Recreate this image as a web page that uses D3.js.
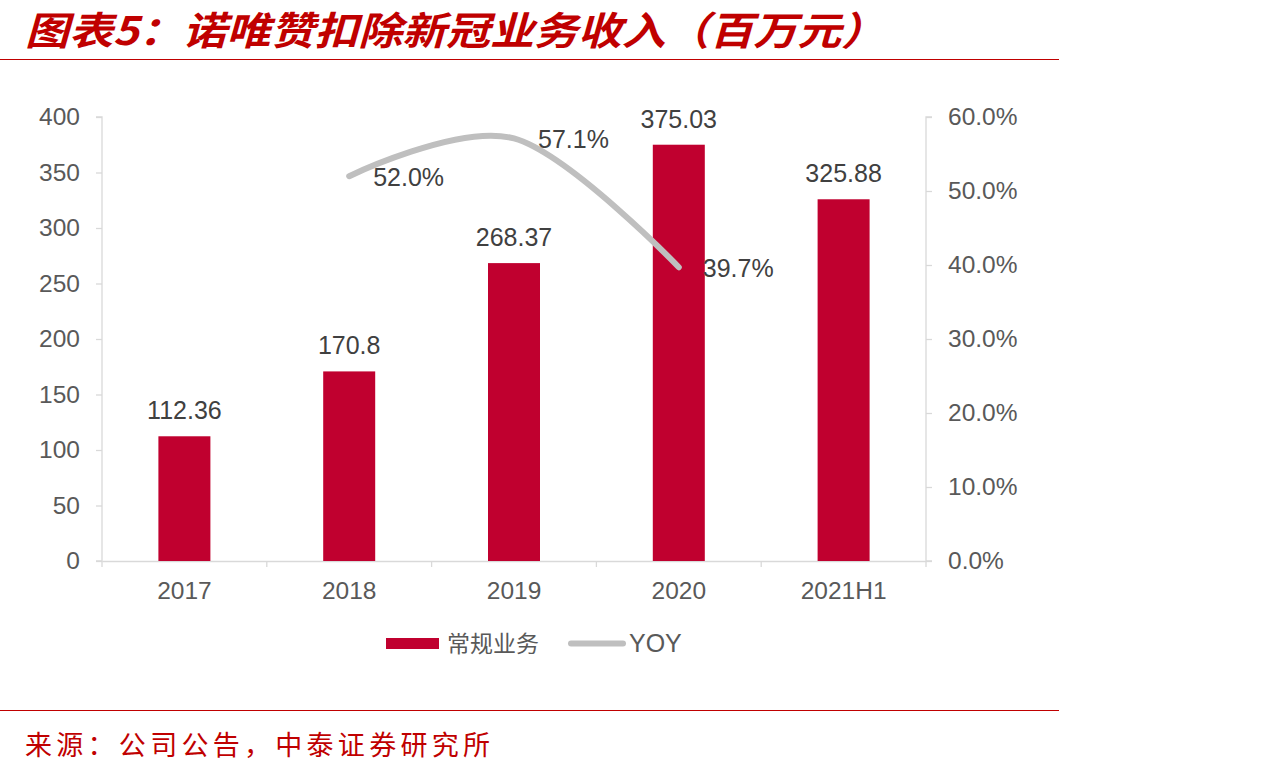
<!DOCTYPE html>
<html><head><meta charset="utf-8">
<script src="https://cdn.jsdelivr.net/npm/d3@7"></script>
<style>body{margin:0;background:#fff;}svg{display:block;}</style>
</head><body>
<svg id="c" width="1286" height="774"></svg>
<script>
const categories = ["2017","2018","2019","2020","2021H1"];
const revenue = [112.36, 170.8, 268.37, 375.03, 325.88];
const revenueLabels = ["112.36","170.8","268.37","375.03","325.88"];
const yoyCats = ["2018","2019","2020"];
const yoy = [0.520, 0.571, 0.397];
const yoyLabels = ["52.0%","57.1%","39.7%"];
const leftTicks = [0,50,100,150,200,250,300,350,400];
const rightTicks = [0,0.1,0.2,0.3,0.4,0.5,0.6];
const titleText = "图表5：诺唯赞扣除新冠业务收入（百万元）";
const sourceText = "来源：公司公告，中泰证券研究所";
const legendNames = ["常规业务","YOY"];

const svg = d3.select("#c");
const red = "#C0002F", gray = "#BFBFBF", txt = "#595959", axisCol = "#D9D9D9";
const font = "'Liberation Sans', Arial, sans-serif";
const cjk = "'Noto Sans CJK SC', sans-serif";

// title
svg.append("text").attr("x",25).attr("y",45).text(titleText)
  .attr("font-family",cjk).attr("font-size",39).attr("font-weight","bold")
  .attr("font-style","italic").attr("fill","#C00000")
  .attr("textLength",860).attr("lengthAdjust","spacingAndGlyphs");
svg.append("line").attr("x1",0).attr("x2",1059).attr("y1",59.5).attr("y2",59.5)
  .attr("stroke","#C00000").attr("stroke-width",1);
svg.append("line").attr("x1",0).attr("x2",1059).attr("y1",710.5).attr("y2",710.5)
  .attr("stroke","#C00000").attr("stroke-width",1);
svg.append("text").attr("x",25).attr("y",755).text(sourceText)
  .attr("font-family",cjk).attr("font-size",27).attr("fill","#C00000")
  .attr("textLength",465).attr("lengthAdjust","spacing");

const x0 = 102, x1 = 926, yTop = 117, yBot = 561;
const x = d3.scaleBand().domain(categories).range([x0,x1]).paddingInner(0).paddingOuter(0);
const y = d3.scaleLinear().domain([0,400]).range([yBot,yTop]);
const y2 = d3.scaleLinear().domain([0,0.6]).range([yBot,yTop]);

// axes
const gL = svg.append("g").attr("transform",`translate(${x0},0)`)
  .call(d3.axisLeft(y).tickValues(leftTicks).tickSize(6).tickPadding(16));
const gR = svg.append("g").attr("transform",`translate(${x1},0)`)
  .call(d3.axisRight(y2).tickValues(rightTicks).tickSize(6).tickPadding(16).tickFormat(d3.format(".1%")));
const gX = svg.append("g").attr("transform",`translate(0,${yBot})`)
  .call(d3.axisBottom(x).tickSize(0).tickPadding(21));
// category boundary ticks
const bounds = categories.map(c=>x(c)).concat([x1]);
svg.append("g").selectAll("line").data(bounds).join("line")
  .attr("x1",d=>d).attr("x2",d=>d).attr("y1",yBot).attr("y2",yBot+6)
  .attr("stroke",axisCol).attr("stroke-width",1.3);
[gL,gR,gX].forEach(g=>{
  g.selectAll("path,line").attr("stroke",axisCol).attr("stroke-width",1.3);
  g.selectAll("text").attr("font-family",font).attr("font-size",24.5).attr("fill",txt);
});
gL.select(".domain").attr("d",`M-6,${yTop}H0V${yBot}H-6`);
gR.select(".domain").attr("d",`M6,${yTop}H0V${yBot}H6`);

// bars
const bw = 52;
svg.append("g").selectAll("rect").data(revenue).join("rect")
  .attr("x",(d,i)=>x(categories[i])+x.bandwidth()/2-bw/2)
  .attr("width",bw)
  .attr("y",d=>y(d)).attr("height",d=>yBot-y(d))
  .attr("fill",red);
svg.append("g").selectAll("text").data(revenue).join("text")
  .attr("x",(d,i)=>x(categories[i])+x.bandwidth()/2)
  .attr("y",d=>y(d)-17)
  .attr("text-anchor","middle").text((d,i)=>revenueLabels[i])
  .attr("font-family",font).attr("font-size",25).attr("fill","#404040");

// line
const pts = yoy.map((v,i)=>[x(yoyCats[i])+x.bandwidth()/2, y2(v)]);
svg.append("path").attr("d",d3.line().curve(d3.curveCatmullRom.alpha(0))(pts))
  .attr("fill","none").attr("stroke",gray).attr("stroke-width",6).attr("stroke-linecap","round");
svg.append("g").selectAll("text").data(pts).join("text")
  .attr("x",d=>d[0]+24).attr("y",d=>d[1]+10)
  .text((d,i)=>yoyLabels[i])
  .attr("font-family",font).attr("font-size",25).attr("fill","#404040");

// legend
svg.append("rect").attr("x",386).attr("y",638).attr("width",53).attr("height",11).attr("fill",red);
svg.append("text").attr("x",447).attr("y",652).text(legendNames[0])
  .attr("font-family",cjk).attr("font-size",23).attr("fill",txt);
svg.append("line").attr("x1",571).attr("x2",623).attr("y1",643.5).attr("y2",643.5)
  .attr("stroke",gray).attr("stroke-width",6).attr("stroke-linecap","round");
svg.append("text").attr("x",629).attr("y",652).text(legendNames[1])
  .attr("font-family",font).attr("font-size",25).attr("fill",txt);
</script>
</body></html>
